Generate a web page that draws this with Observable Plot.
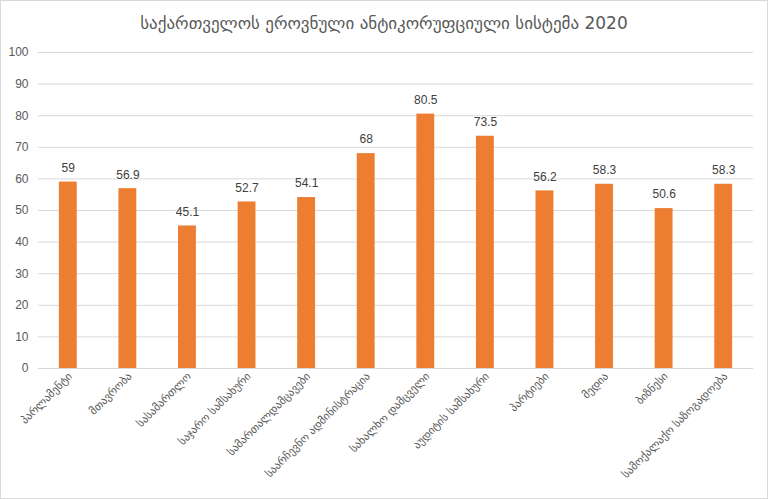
<!DOCTYPE html>
<html>
<head>
<meta charset="utf-8">
<script src="https://cdn.jsdelivr.net/npm/d3@7"></script>
<script src="https://cdn.jsdelivr.net/npm/@observablehq/plot@0.6"></script>
<style>
  html, body { margin: 0; padding: 0; background: #fff; }
  #wrap { width: 768px; height: 499px; box-sizing: border-box; border: 1px solid #d9d9d9; position: relative; overflow: hidden; }
  #title { height: 40px; line-height: 44px; text-align: center; font-family: "DejaVu Sans", sans-serif; font-size: 17px; color: #595959; }
  #chart svg { display: block; }
</style>
</head>
<body>
<div id="wrap">
  <div id="title">საქართველოს ეროვნული ანტიკორუფციული სისტემა 2020</div>
  <div id="chart"></div>
</div>
<script>
const categories = [
  "პარლამენტი",
  "მთავრობა",
  "სასამართლო",
  "საჯარო სამსახური",
  "სამართალდამცავები",
  "საარჩევნო ადმინისტრაცია",
  "სახალხო დამცველი",
  "აუდიტის სამსახური",
  "პარტიები",
  "მედია",
  "ბიზნესი",
  "სამოქალაქო საზოგადოება"
];
const scores = [59, 56.9, 45.1, 52.7, 54.1, 68, 80.5, 73.5, 56.2, 58.3, 50.6, 58.3];
const yTicks = [0, 10, 20, 30, 40, 50, 60, 70, 80, 90, 100];

const data = categories.map((c, i) => ({category: c, score: scores[i]}));

const chart = Plot.plot({
  width: 766,
  height: 457,
  marginTop: 11,
  marginBottom: 130,
  marginLeft: 37,
  marginRight: 14,
  style: {fontFamily: "'Liberation Sans', 'DejaVu Sans', sans-serif", fontSize: "12px", color: "#595959", background: "#fff"},
  x: {domain: categories, paddingInner: 0.7, paddingOuter: 0.35, round: false, label: null},
  y: {domain: [0, 100], ticks: yTicks, label: null},
  marks: [
    Plot.gridY(yTicks, {stroke: "#d9d9d9", strokeOpacity: 1, strokeWidth: 1}),
    Plot.barY(data, {x: "category", y: "score", fill: "#ed7d31"}),
    Plot.text(data, {x: "category", y: "score", text: d => String(d.score), dy: -14, fill: "#404040", fontSize: 12}),
    Plot.axisY(yTicks, {tickSize: 0, tickPadding: 10, fontSize: 12, fill: "#595959", label: null}),
    Plot.axisX({tickSize: 0, tickRotate: -45, tickPadding: 6, dx: 2, fontSize: 11, fill: "#595959", fontFamily: "'DejaVu Sans', sans-serif", label: null})
  ]
});
document.getElementById("chart").appendChild(chart);
</script>
</body>
</html>
